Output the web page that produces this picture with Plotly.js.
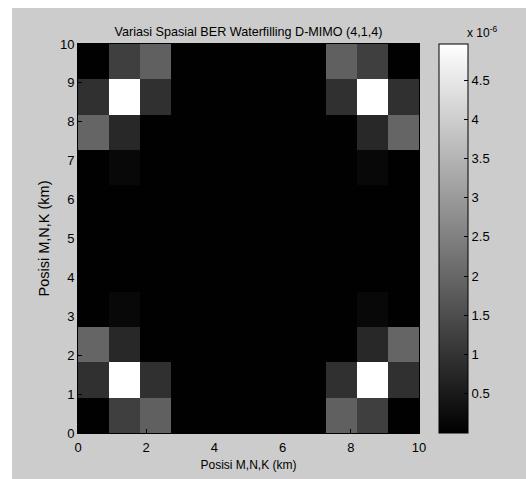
<!DOCTYPE html>
<html>
<head>
<meta charset="utf-8">
<script src="https://cdn.plot.ly/plotly-3.0.1.min.js"></script>
<style>
html,body{margin:0;padding:0;background:#ffffff;width:526px;height:479px;overflow:hidden;}
#chart{position:absolute;left:12px;top:8px;width:514px;height:471px;}
</style>
</head>
<body>
<div id="chart"></div>
<script>
// BER values in units of 1e-6, rows from y=0 (bottom) to y=10 (top), columns x=0..10
const rowEdge   = [0.02, 1.22, 1.87, 0.01, 0.01, 0.01, 0.01, 0.01, 1.87, 1.22, 0.02];
const rowPeak   = [0.93, 4.96, 0.93, 0.01, 0.01, 0.01, 0.01, 0.01, 0.93, 4.96, 0.93];
const rowSide   = [1.96, 0.78, 0.01, 0.01, 0.01, 0.01, 0.01, 0.01, 0.01, 0.78, 1.96];
const rowFaint  = [0.01, 0.15, 0.01, 0.01, 0.01, 0.01, 0.01, 0.01, 0.01, 0.15, 0.01];
const rowFlat   = [0.01, 0.01, 0.01, 0.01, 0.01, 0.01, 0.01, 0.01, 0.01, 0.01, 0.01];
const zRows = [rowEdge, rowPeak, rowSide, rowFaint, rowFlat, rowFlat, rowFlat, rowFaint, rowSide, rowPeak, rowEdge];
const gridCount = 11;
const gridExtent = 10;
const xTicks = [0, 2, 4, 6, 8, 10];
const yTicks = [0, 1, 2, 3, 4, 5, 6, 7, 8, 9, 10];
const cbTicks = [0.5, 1, 1.5, 2, 2.5, 3, 3.5, 4, 4.5];
const cbTickText = ['0.5', '1', '1.5', '2', '2.5', '3', '3.5', '4', '4.5'];

const edges = Array.from({length: gridCount + 1}, (_, i) => i * gridExtent / gridCount);

const fam = 'Liberation Sans, Arial, sans-serif';
const font = {family: fam, size: 13, color: '#000000'};

const trace = {
  type: 'heatmap',
  z: zRows,
  x: edges,
  y: edges,
  zmin: 0,
  zmax: 4.96,
  colorscale: [[0, 'rgb(0,0,0)'], [1, 'rgb(255,255,255)']],
  hoverinfo: 'skip',
  colorbar: {
    x: 1.0587, xanchor: 'left', xpad: 0,
    y: 0.5, yanchor: 'middle', ypad: 0,
    len: 1, lenmode: 'fraction',
    thickness: 29, thicknessmode: 'pixels',
    outlinewidth: 1, outlinecolor: '#000000',
    tickmode: 'array', tickvals: cbTicks, ticktext: cbTickText,
    ticks: 'inside', ticklen: 4, tickcolor: '#000000',
    tickfont: font
  }
};

const layout = {
  width: 514, height: 471,
  margin: {l: 66, r: 107, t: 36, b: 46},
  paper_bgcolor: '#cccccc',
  plot_bgcolor: '#000000',
  font: font,
  title: {text: 'Variasi Spasial BER Waterfilling D-MIMO (4,1,4)', font: {family: fam, size: 12.6, color: '#000000'}, x: 0.5, xref: 'paper', xanchor: 'center', y: 1, yref: 'paper', yanchor: 'bottom', pad: {b: 8}},
  xaxis: {
    range: [0, gridExtent], tickmode: 'array', tickvals: xTicks, ticktext: xTicks.map(String),
    showgrid: false, zeroline: false, ticks: 'inside', ticklen: 4, tickcolor: '#000000',
    showline: true, linecolor: '#000000', mirror: true, tickfont: font, ticklabelstandoff: 2,
    title: {text: 'Posisi M,N,K (km)', font: {family: fam, size: 12, color: '#000000'}, standoff: 7}
  },
  yaxis: {
    range: [0, gridExtent], tickmode: 'array', tickvals: yTicks, ticktext: yTicks.map(String),
    showgrid: false, zeroline: false, ticks: 'inside', ticklen: 4, tickcolor: '#000000',
    showline: true, linecolor: '#000000', mirror: true, tickfont: font,
    title: {text: 'Posisi M,N,K (km)', font: {family: fam, size: 14.5, color: '#000000'}, standoff: 6}
  },
  annotations: [{
    text: 'x 10<sup>-6</sup>', xref: 'paper', yref: 'paper', x: 1.185, y: 1.004,
    xanchor: 'center', yanchor: 'bottom', showarrow: false, font: {family: fam, size: 12, color: '#000000'}
  }]
};

Plotly.newPlot('chart', [trace], layout, {displayModeBar: false, staticPlot: true});
</script>
</body>
</html>
